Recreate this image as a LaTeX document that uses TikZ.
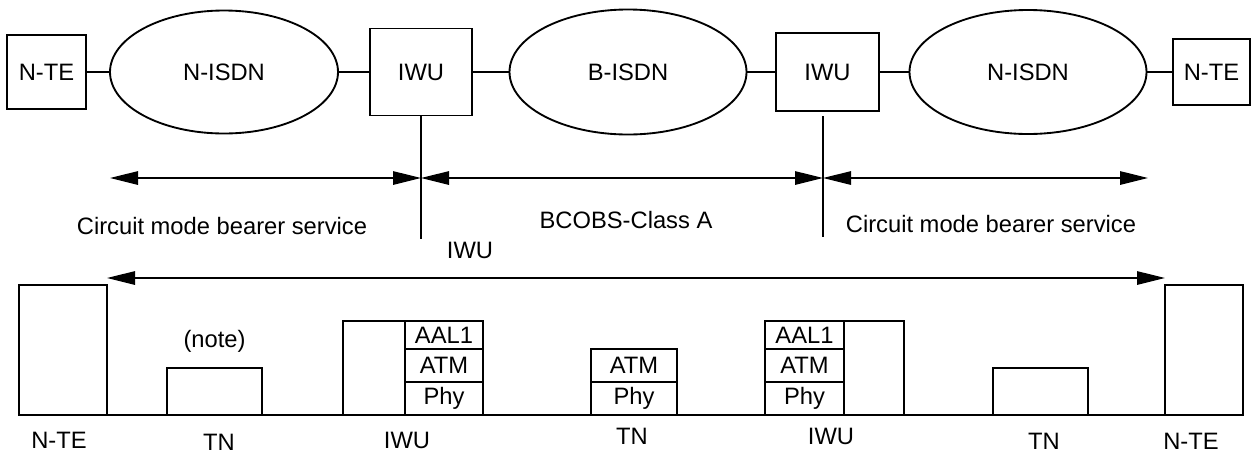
\documentclass[tikz,border=0pt]{standalone}
\usepackage{fontspec}
\setmainfont{Liberation Sans}
\usetikzlibrary{arrows.meta,positioning,shapes.geometric}

\tikzset{every picture/.style={line width=1.4pt}}
\tikzset{
  box/.style={draw, rectangle, outer sep=0pt, inner sep=0.75pt},
  cloud/.style={draw, ellipse, outer sep=0pt, inner sep=0.75pt},
  layer/.style={box, minimum width=58.5pt},
  spanarrow/.style={{Triangle[length=21pt,width=10pt]}-{Triangle[length=21pt,width=10pt]}},
  every node/.append style={font=\fontsize{17.8}{21}\selectfont, inner sep=0.75pt},
}

\begin{document}
\begin{tikzpicture}[x=0.75pt,y=0.75pt,yscale=-1,xscale=1]
\useasboundingbox (0,0) rectangle (1260,454);

%Shape: Rectangle
\node[box, minimum width=59.25pt, minimum height=55.5pt] (nteA) at (46.5,72) {N-TE};
%Shape: Ellipse
\node[cloud, minimum width=171pt, minimum height=92.25pt] (isdnA) at (224,72) {N-ISDN};
%Shape: Rectangle
\node[box, minimum width=76.5pt, minimum height=65.25pt] (iwuA) at (421,72) {IWU};
%Shape: Ellipse
\node[cloud, minimum width=177.75pt, minimum height=93.75pt] (bisdn) at (628,72) {B-ISDN};
%Shape: Rectangle
\node[box, minimum width=77.25pt, minimum height=58.5pt] (iwuB) at (827.5,72) {IWU};
%Shape: Ellipse
\node[cloud, minimum width=177.75pt, minimum height=93pt] (isdnB) at (1028,72) {N-ISDN};
%Shape: Rectangle
\node[box, minimum width=57.75pt, minimum height=49.5pt] (nteB) at (1211.5,72) {N-TE};

%Straight Lines
\draw (nteA) -- (isdnA);
\draw (isdnA) -- (iwuA);
\draw (iwuA) -- (bisdn);
\draw (bisdn) -- (iwuB);
\draw (iwuB) -- (isdnB);
\draw (isdnB) -- (nteB);

%Straight Lines
\coordinate (sepAbot) at (421,239);
\coordinate (sepBtop) at (823,116);
\coordinate (sepBbot) at (823,237);
\draw (iwuA.south) -- (sepAbot);
\draw (sepBtop) -- (sepBbot);

%Straight Lines
\coordinate (spanL) at (110,178);
\coordinate (spanA) at (421,178);
\coordinate (spanB) at (823,178);
\coordinate (spanR) at (1148,178);
\draw[spanarrow] (spanL) -- (spanA);
\draw[spanarrow] (spanA) -- (spanB);
\draw[spanarrow] (spanB) -- (spanR);

% Text Node
\node (svcA) at (222,226) {Circuit mode bearer service};
% Text Node
\node (svcB) at (626,220) {BCOBS-Class A};
% Text Node
\node (svcC) at (991,224) {Circuit mode bearer service};
% Text Node
\node (iwuTag) at (470,250) {IWU};

%Shape: Rectangle
\node[box, minimum width=66pt, minimum height=97.5pt] (nteC) at (63,350) {};
%Shape: Rectangle
\node[box, minimum width=71.25pt, minimum height=35.25pt] (tnA) at (214.5,391.5) {};
\node[above=10pt of tnA] (noteA) {(note)};

%Shape: Rectangle
\node[box, minimum width=46.5pt, minimum height=70.5pt, anchor=south west] (iwuCbody) at (343,415) {};
\node[layer, minimum height=21pt, anchor=north west] (iwuCaal) at (iwuCbody.north east) {AAL1};
\node[layer, minimum height=24.75pt, below=0pt of iwuCaal] (iwuCatm) {ATM};
\node[layer, minimum height=24.75pt, below=0pt of iwuCatm] (iwuCphy) {Phy};

%Shape: Rectangle
\node[layer, minimum width=64.5pt, minimum height=24.75pt, anchor=south] (tnBphy) at (634,415) {Phy};
\node[layer, minimum width=64.5pt, minimum height=24.75pt, above=0pt of tnBphy] (tnBatm) {ATM};

%Shape: Rectangle
\node[box, minimum width=45pt, minimum height=70.5pt, anchor=south east] (iwuDbody) at (904,415) {};
\node[layer, minimum width=59.25pt, minimum height=21pt, anchor=north east] (iwuDaal) at (iwuDbody.north west) {AAL1};
\node[layer, minimum width=59.25pt, minimum height=24.75pt, below=0pt of iwuDaal] (iwuDatm) {ATM};
\node[layer, minimum width=59.25pt, minimum height=24.75pt, below=0pt of iwuDatm] (iwuDphy) {Phy};

%Shape: Rectangle
\node[box, minimum width=71.25pt, minimum height=35.25pt] (tnC) at (1040.5,391.5) {};
%Shape: Rectangle
\node[box, minimum width=58.5pt, minimum height=97.5pt] (nteD) at (1204,350) {};

%Straight Lines
\draw (nteC.south east) -- (nteD.south west);
\draw[spanarrow] ([yshift=-5.25pt]nteC.north east) -- ([yshift=-5.25pt]nteD.north west);

% Text Node
\node (nteClbl) at (59,440) {N-TE};
% Text Node
\node (tnAlbl) at (219,442.5) {TN};
% Text Node
\node (iwuClbl) at (407,440) {IWU};
% Text Node
\node (tnBlbl) at (632,436) {TN};
% Text Node
\node (iwuDlbl) at (831,436) {IWU};
% Text Node
\node (tnClbl) at (1044,441.5) {TN};
% Text Node
\node (nteDlbl) at (1191,441) {N-TE};

\end{tikzpicture}
\end{document}
